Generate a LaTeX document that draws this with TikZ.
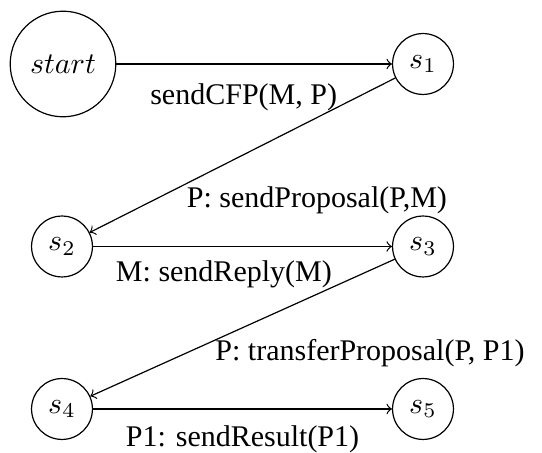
\documentclass[tikz,border=0pt]{standalone}
\usepackage{fontspec}
\setmainfont{Liberation Serif}
\begin{document}
\begin{tikzpicture}[x=0.33333pt, y=-0.33333pt,
  state/.style={draw, circle, inner sep=0pt, minimum size=20.3pt},
  bigstate/.style={draw, circle, inner sep=0pt, minimum size=35.2pt},
  lbl/.style={inner sep=0pt, anchor=center, font=\fontsize{10}{12}\selectfont},
  trans/.style={->}]
\useasboundingbox (0,0) rectangle (542,453);

% states
\node[bigstate] (start) at (63,64)    {$start$};
\node[state]    (s1)    at (423,64)   {$s_1$};
\node[state]    (s2)    at (62,246.5) {$s_2$};
\node[state]    (s3)    at (423,246.5){$s_3$};
\node[state]    (s4)    at (62,409)   {$s_4$};
\node[state]    (s5)    at (423,409)  {$s_5$};

% transitions with their labels
\draw[trans] (start) -- node[lbl, midway, xshift=-3.5pt, yshift=-11pt] (l1) {sendCFP(M, P)} (s1);
\draw[trans] (s1) -- node[lbl, midway, xshift=24.8pt, yshift=-15pt] (l2) {P: sendProposal(P,M)} (s2);
\draw[trans] (s2) -- node[lbl, midway, xshift=-6.2pt, yshift=-9.4pt] (l3) {M: sendReply(M)} (s3);
\draw[trans] (s3) -- node[lbl, midway, xshift=42.5pt, yshift=-8.6pt] (l4) {P: transferProposal(P, P1)} (s4);
\draw[trans] (s4) -- node[lbl, midway, xshift=0pt, yshift=-10pt] (l5) {P1: sendResult(P1)} (s5);
\end{tikzpicture}
\end{document}
